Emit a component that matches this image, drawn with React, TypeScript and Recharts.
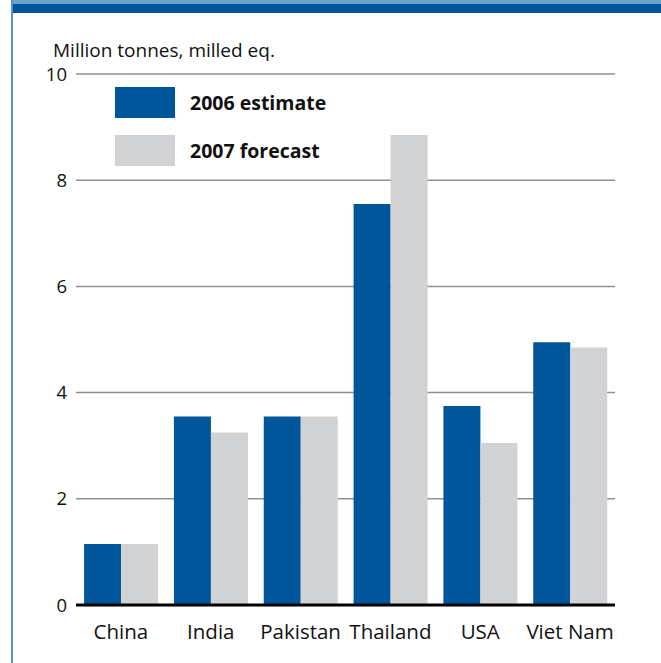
import * as React from "react";
import { BarChart, Bar, XAxis, YAxis, CartesianGrid } from "recharts";

const countries = ["China", "India", "Pakistan", "Thailand", "USA", "Viet Nam"];
const estimate2006 = [1.15, 3.55, 3.55, 7.55, 3.75, 4.95];
const forecast2007 = [1.15, 3.25, 3.55, 8.85, 3.05, 4.85];
const yTicks = [0, 2, 4, 6, 8, 10];
const seriesNames = ["2006 estimate", "2007 forecast"];

const BLUE = "#00569a";
const GREY = "#d1d2d4";
const FONT = "'Open Sans', 'Noto Sans', sans-serif";

const data = countries.map((name, i) => ({
  name,
  est: estimate2006[i],
  fc: forecast2007[i],
}));

// legend sits inside the plot, so it is drawn by hand on top of the chart
const ChartLegend = () => (
  <div style={{ position: "absolute", left: 115, top: 87, fontFamily: FONT }}>
    {seriesNames.map((label, index) => (
      <div
        key={label}
        style={{ display: "flex", alignItems: "center", height: 31, marginBottom: 17 }}
      >
        <div style={{ width: 60, height: 31, backgroundColor: index === 0 ? BLUE : GREY }} />
        <span style={{ marginLeft: 15, fontSize: 19.5, fontWeight: 700, color: "#111" }}>
          {label}
        </span>
      </div>
    ))}
  </div>
);

export default function App() {
  return (
    <div
      style={{
        position: "absolute",
        left: 0,
        top: 0,
        width: 661,
        height: 663,
        background: "#fff",
        overflow: "hidden",
      }}
    >
      <div style={{ position: "absolute", left: 11, top: 0, width: 650, height: 4, background: "#6fa2cc" }} />
      <div style={{ position: "absolute", left: 11, top: 4, width: 650, height: 9, background: BLUE }} />
      <div style={{ position: "absolute", left: 11, top: 0, width: 2, height: 663, background: "#5b91c6" }} />
      <div
        style={{
          position: "absolute",
          left: 53,
          top: 37,
          fontFamily: FONT,
          fontSize: 19,
          color: "#111",
          whiteSpace: "nowrap",
        }}
      >
        Million tonnes, milled eq.
      </div>
      <div style={{ position: "absolute", left: 0, top: 0 }}>
        <BarChart
          width={661}
          height={663}
          data={data}
          margin={{ top: 74, right: 46, bottom: 28, left: 36 }}
          barCategoryGap="9%"
          barGap={0}
        >
          <CartesianGrid vertical={false} stroke="#8f8f8f" strokeWidth={1.5} />
          <XAxis
            dataKey="name"
            height={30}
            tickLine={false}
            tickSize={0}
            tickMargin={19}
            axisLine={{ stroke: "#000", strokeWidth: 3 }}
            tick={{ fill: "#111", fontSize: 20.5, fontFamily: FONT }}
            interval={0}
          />
          <YAxis
            width={40}
            domain={[0, 10]}
            ticks={yTicks}
            tickLine={false}
            axisLine={false}
            tickSize={0}
            tickMargin={9}
            tick={{ fill: "#111", fontSize: 18.5, fontFamily: FONT }}
          />
          <Bar dataKey="est" name={seriesNames[0]} fill={BLUE} isAnimationActive={false} />
          <Bar dataKey="fc" name={seriesNames[1]} fill={GREY} isAnimationActive={false} />
        </BarChart>
      </div>
      <ChartLegend />
    </div>
  );
}
